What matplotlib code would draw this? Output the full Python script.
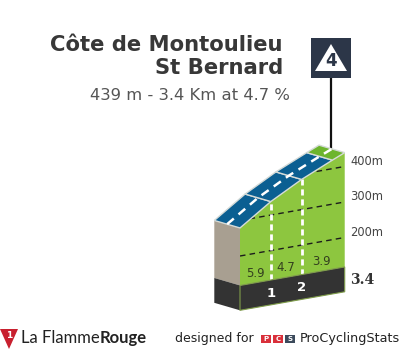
import matplotlib
matplotlib.use('Agg')
import matplotlib.pyplot as plt
from matplotlib.patches import Polygon, Rectangle
from matplotlib.transforms import Affine2D

# climb profile
km = [0, 1, 2, 3, 3.4]
elev = [279, 338, 385, 424, 439]
top_colors = ['#0b5f92', '#0b5f92', '#0b5f92', '#6db52d']
grad_km = [0.5, 1.5, 2.65]
grad_labels = ['5.9', '4.7', '3.9']
km_marks = [1, 2]
elev_ticks = [200, 300, 400]
band_top = 117
band_bottom = 47
length_label = '3.4'

title1 = 'Côte de Montoulieu'
title2 = 'St Bernard'
subtitle = '439 m - 3.4 Km at 4.7 %'

fig = plt.figure(figsize=(4.05, 3.55), dpi=100)
ax = fig.add_axes([0, 0, 1, 1])
ax.set_xlim(0, 405)
ax.set_ylim(355, 0)
ax.axis('off')

# km / metres -> picture position, the profile is skewed
front = Affine2D.from_values(30.8, -5.45, 0, -0.355, 240, 327) + ax.transData
back = Affine2D.from_values(30.8, -5.45, 0, -0.355, 240 - 25.7, 327 - 7.5) + ax.transData

green = '#8dc63f'
dark = '#333333'

# front face
xs = km + [km[-1], km[0]]
ys = elev + [band_top, band_top]
face = Polygon(list(zip(xs, ys)), closed=True, fc=green, ec='none', transform=front, zorder=2)
ax.add_patch(face)

# height lines, clipped to the face
for e in elev_ticks:
    line, = ax.plot([km[0], km[-1]], [e, e], color='#1c1c1c', lw=1, ls=(0, (4, 3)), transform=front, zorder=3)
    line.set_clip_path(face)

# km marks on the face
for k in km_marks:
    ax.plot([k, k], [band_top, elev[km.index(k)]], color='white', lw=2, ls=(0, (2.2, 1.4)), transform=front, zorder=4)

# dark band
ax.add_patch(Polygon([(km[0], band_bottom), (km[-1], band_bottom), (km[-1], band_top), (km[0], band_top)],
                     closed=True, fc=dark, ec='#7f9c4a', lw=0.8, transform=front, zorder=5))

# left side
inv = ax.transData.inverted()
x0, y_top = inv.transform(front.transform((km[0], elev[0])))
_, y_band = inv.transform(front.transform((km[0], band_top)))
_, y_bot = inv.transform(front.transform((km[0], band_bottom)))
bx, by_top = inv.transform(back.transform((km[0], elev[0])))
_, by_band = inv.transform(back.transform((km[0], band_top)))
_, by_bot = inv.transform(back.transform((km[0], band_bottom)))
ax.add_patch(Polygon([(bx, by_top), (x0, y_top), (x0, y_band), (bx, by_band)], fc='#a89f91', ec='none', zorder=2))
ax.add_patch(Polygon([(bx, by_band), (x0, y_band), (x0, y_bot), (bx, by_bot)], fc=dark, ec='none', zorder=2))

# road on top
for i in range(len(km) - 1):
    f = [inv.transform(front.transform((km[j], elev[j]))) for j in (i, i + 1)]
    b = [inv.transform(back.transform((km[j], elev[j]))) for j in (i + 1, i)]
    ax.add_patch(Polygon(f + b, closed=True, fc=top_colors[i], ec='#d5dbd8', lw=1, zorder=6))

# centre line of the road
mid = [(inv.transform(front.transform((k, e))) + inv.transform(back.transform((k, e)))) / 2 for k, e in zip(km, elev)]
ax.plot([m[0] for m in mid], [m[1] for m in mid], color='white', lw=1.8, ls=(0, (3.5, 2.5)), zorder=7)

# labels
for k, lab in zip(grad_km, grad_labels):
    ax.text(k, band_top + 27, lab, transform=front, ha='center', va='center', fontsize=8.5,
            color='#34401f', zorder=8)
for k in km_marks:
    ax.text(k, band_bottom + 33, str(k), transform=front, ha='center', va='center', fontsize=9.5,
            fontweight='bold', color='white', zorder=8)

ex = inv.transform(front.transform((km[-1], 0)))[0]
for e in elev_ticks:
    y = inv.transform(front.transform((km[-1], e)))[1]
    ax.text(ex + 5.5, y - 5, '%dm' % e, ha='left', va='center', fontsize=8.3, color='#444444')
ax.text(ex + 5, 280, length_label, ha='left', va='center', fontsize=10, fontweight='bold',
        family='DejaVu Serif', color='#333333')

# title
ax.text(283, 45, title1, ha='right', va='center', fontsize=15.2, fontweight='bold', color='#383838')
ax.text(283, 68.5, title2, ha='right', va='center', fontsize=15.2, fontweight='bold', color='#383838')
ax.text(290, 96, subtitle, ha='right', va='center', fontsize=11.8, color='#555555')

# category flag
ax.plot([330.7, 330.7], [78, 148], color='#111111', lw=1.6, zorder=1)
ax.add_patch(Rectangle((311, 38), 40, 40, fc='#2c3648', ec='none', zorder=3))
ax.add_patch(Polygon([(331, 44), (347, 71), (315, 71)], fc='white', ec='none', zorder=4))
ax.text(331, 60.5, '4', ha='center', va='center', fontsize=12, fontweight='bold', color='#2c3648', zorder=5)

# footer
ax.add_patch(Polygon([(0, 329), (18, 329), (9, 349)], fc='#c8202f', ec='none'))
ax.text(8.8, 336, '1', ha='center', va='center', fontsize=6.5, fontweight='bold', color='white')
t = ax.text(21, 338, 'La Flamme', ha='left', va='center', fontsize=12, color='#222222', family='Lato')
fig.canvas.draw()
end = inv.transform(t.get_window_extent().get_points())[1][0]
ax.text(end, 338, 'Rouge', ha='left', va='center', fontsize=12, fontweight='bold', color='#222222', family='Lato')
ax.text(175, 338.5, 'designed for', ha='left', va='center', fontsize=9, color='#222222')
for lx, c, lab in zip([261, 273, 285], ['#d9303b', '#d9303b', '#3c4a5c'], ['P', 'C', 'S']):
    ax.add_patch(Rectangle((lx, 335), 10, 8, fc=c, ec='none'))
    ax.text(lx + 5, 339, lab, ha='center', va='center', fontsize=5, fontweight='bold', color='white')
ax.text(300, 338.5, 'ProCyclingStats', ha='left', va='center', fontsize=9.2, color='#222222')

fig.savefig('out.png', dpi=100)
